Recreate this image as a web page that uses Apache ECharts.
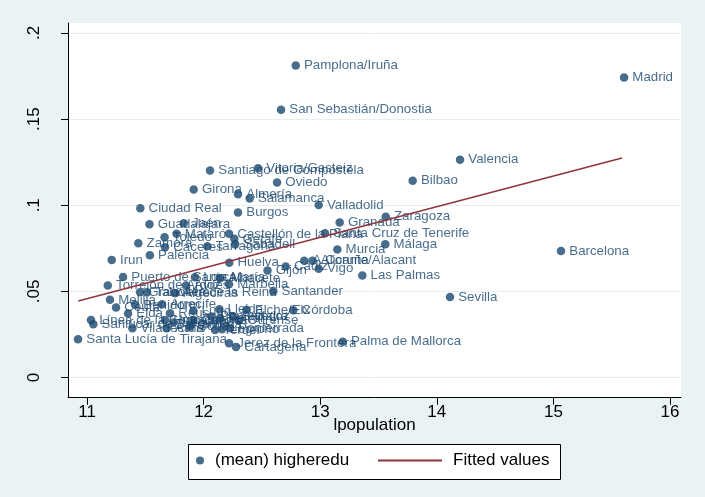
<!DOCTYPE html>
<html>
<head>
<meta charset="utf-8">
<script src="https://cdn.jsdelivr.net/npm/echarts@6/dist/echarts.min.js"></script>
<style>
  html, body { margin: 0; padding: 0; background: #EAF2F3; }
  #chart { width: 705px; height: 497px; }
</style>
</head>
<body>
<div id="chart"></div>
<script>
// City names, log population and mean share with higher education
const cities = [
  'Madrid', 'Pamplona/Iruña', 'San Sebastián/Donostia', 'Valencia', 'Santiago de Compostela',
  'Vitoria/Gasteiz', 'Bilbao', 'Oviedo', 'Girona', 'Almería',
  'Salamanca', 'Valladolid', 'Ciudad Real', 'Burgos', 'Zaragoza',
  'Granada', 'Guadalajara', 'Jaén', 'Mataró', 'Castellón de la Plana',
  'Santa Cruz de Tenerife', 'Toledo', 'Getafe', 'Málaga', 'Zamora',
  'Cáceres', 'Tarragona', 'Sabadell', 'Murcia', 'Barcelona',
  'Palencia', 'Irun', 'Huelva', 'A Coruña', 'Alicante/Alacant',
  'Cádiz', 'Vigo', 'Gijón', 'Las Palmas', 'Puerto de Santa María',
  'Sevilla', 'Santander', 'Palma de Mallorca', 'Jerez de la Frontera', 'Cartagena',
  'Santa Lucía de Tirajana', 'Torrejón de Ardoz', 'Avilés', 'Marbella', 'Albacete',
  'Lorca', 'Granollers', 'Talavera de la Reina', 'Algeciras', 'Melilla',
  'Ceuta', 'Benidorm', 'Arrecife', 'Elda', 'Reus',
  'Lugo', 'Lleida', 'Elche/Elx', 'Córdoba', 'Pontevedra',
  'Badajoz', 'Ourense', 'Ferrol', 'Huesca', 'Cuenca',
  'Segovia', 'Ávila', 'Soria', 'Teruel', 'Logroño',
  'Línea de la Concepción', 'Sanlúcar de Barrameda', 'Viladecans', 'Ponferrada'
];

const lpopulation = [
  15.606, 12.790, 12.664, 14.199, 12.055,
  12.467, 13.793, 12.630, 11.915, 12.295,
  12.395, 12.987, 11.457, 12.295, 13.562,
  13.167, 11.536, 11.830, 11.768, 12.218,
  13.041, 11.665, 12.263, 13.558, 11.440,
  11.669, 12.032, 12.271, 13.147, 15.065,
  11.539, 11.212, 12.220, 12.863, 12.934,
  12.704, 12.987, 12.548, 13.361, 11.309,
  14.113, 12.598, 13.193, 12.218, 12.278,
  10.923, 11.178, 11.849, 12.218, 12.141,
  11.926, 11.455, 11.515, 11.755, 11.197,
  11.249, 11.412, 11.643, 11.352, 11.712,
  11.912, 12.135, 12.368, 12.769, 12.069,
  12.255, 12.304, 12.141, 11.669, 11.912,
  11.740, 11.684, 11.883, 12.098, 12.158,
  11.034, 11.054, 11.389, 12.226
];

const higheredu = [
  0.1742, 0.1811, 0.1554, 0.1264, 0.1202,
  0.1215, 0.1143, 0.1132, 0.1091, 0.1064,
  0.1039, 0.1002, 0.0983, 0.0958, 0.0934,
  0.0900, 0.0890, 0.0896, 0.0834, 0.0834,
  0.0838, 0.0815, 0.0805, 0.0774, 0.0780,
  0.0756, 0.0762, 0.0773, 0.0743, 0.0735,
  0.0710, 0.0683, 0.0666, 0.0678, 0.0678,
  0.0644, 0.0632, 0.0621, 0.0592, 0.0584,
  0.0468, 0.0501, 0.0208, 0.0199, 0.0178,
  0.0222, 0.0534, 0.0534, 0.0542, 0.0577,
  0.0582, 0.0495, 0.0495, 0.0490, 0.0451,
  0.0406, 0.0422, 0.0426, 0.0372, 0.0373,
  0.0387, 0.0397, 0.0393, 0.0390, 0.0354,
  0.0354, 0.0332, 0.0344, 0.0334, 0.0334,
  0.0320, 0.0286, 0.0296, 0.0276, 0.0280,
  0.0334, 0.0310, 0.0286, 0.0286
];

// Linear fit, end points over the observed range
const fitLpop = [10.925, 15.588];
const fitValues = [0.0444, 0.1274];

// Tick positions and labels
const xTicks = [11, 12, 13, 14, 15, 16];
const yTicks = [0, 0.05, 0.1, 0.15, 0.2];
const yTickLabels = ['0', '.05', '.1', '.15', '.2'];

const NAVY = '#1a476f';
const MAROON = '#90353b';
const FONT = '"Liberation Sans", Arial, Helvetica, sans-serif';

const scatterData = cities.map((c, i) => ({ name: c, value: [lpopulation[i], higheredu[i]] }));
const fitData = fitLpop.map((x, i) => [x, fitValues[i]]);

const chart = echarts.init(document.getElementById('chart'), null, { renderer: 'canvas' });

chart.setOption({
  backgroundColor: '#EAF2F3',
  animation: false,
  textStyle: { fontFamily: FONT },
  grid: {
    left: 68, right: 24, top: 23, bottom: 99.3,
    show: true, backgroundColor: '#ffffff', borderWidth: 0
  },
  xAxis: {
    type: 'value',
    min: 10.837, max: 16.094,
    name: 'lpopulation',
    nameLocation: 'middle',
    nameGap: 19,
    nameMoveOverlap: false,
    nameTextStyle: { color: '#000', fontSize: 17, fontFamily: FONT },
    axisLine: { onZero: false, lineStyle: { color: '#000', width: 1 } },
    axisTick: { show: true, length: 7, customValues: xTicks, lineStyle: { color: '#000' } },
    axisLabel: { customValues: xTicks, color: '#000', fontSize: 17, margin: 6, fontFamily: FONT },
    splitLine: { show: false }
  },
  yAxis: {
    type: 'value',
    min: -0.0117, max: 0.2058,
    axisLine: { show: true, onZero: false, lineStyle: { color: '#000', width: 1 } },
    axisTick: { show: true, length: 7, customValues: yTicks, lineStyle: { color: '#000' } },
    axisLabel: {
      customValues: yTicks, color: '#000', fontSize: 17, rotate: 90, margin: 25, fontFamily: FONT,
      formatter: v => { const k = yTicks.findIndex(t => Math.abs(t - v) < 1e-9); return k >= 0 ? yTickLabels[k] : ''; }
    },
    splitLine: { show: true, lineStyle: { color: '#E6EEF0', width: 1 } }
  },
  legend: [
    {
      data: ['(mean) higheredu'],
      left: 196, top: 452, padding: 0,
      itemWidth: 8, itemHeight: 8, icon: 'circle',
      textStyle: { color: '#000', fontSize: 17, fontFamily: FONT, padding: [0, 0, 0, 6] },
      z: 5
    },
    {
      data: ['Fitted values'],
      left: 378, top: 452, padding: 0,
      itemWidth: 64, itemHeight: 2, icon: 'rect',
      textStyle: { color: '#000', fontSize: 17, fontFamily: FONT, padding: [0, 0, 0, 6] },
      z: 5
    }
  ],
  graphic: [
    {
      type: 'rect', z: 1,
      shape: { x: 188.5, y: 444.5, width: 372, height: 35 },
      style: { fill: '#ffffff', stroke: '#000', lineWidth: 1 }
    }
  ],
  series: [
    {
      name: '(mean) higheredu',
      type: 'scatter',
      data: scatterData,
      symbol: 'circle',
      symbolSize: 8.5,
      itemStyle: { color: NAVY },
      z: 2,
      label: {
        show: true, position: 'right', distance: 4,
        formatter: '{b}', color: NAVY, fontSize: 13.3, fontFamily: FONT
      },
      emphasis: { disabled: true }
    },
    {
      name: 'Fitted values',
      type: 'line',
      data: fitData,
      showSymbol: false,
      lineStyle: { color: MAROON, width: 1.5 },
      itemStyle: { color: MAROON },
      z: 3,
      emphasis: { disabled: true }
    }
  ]
});
</script>
</body>
</html>
